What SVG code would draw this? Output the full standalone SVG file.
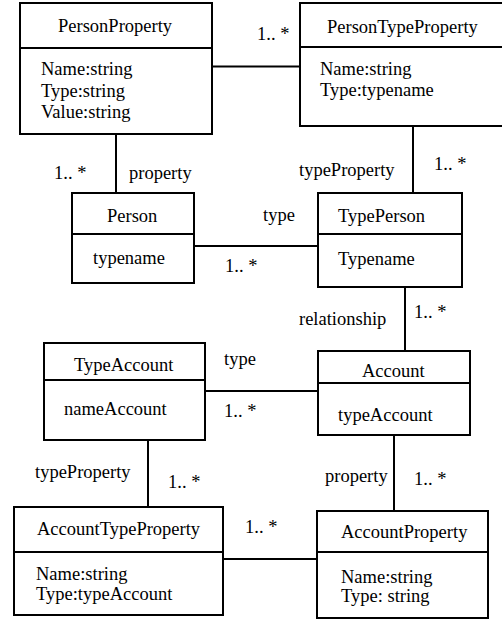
<svg xmlns="http://www.w3.org/2000/svg" width="502" height="619" viewBox="0 0 502 619" font-family="'Liberation Serif', serif" font-size="18.5">
  <style>
    .box { fill: #ffffff; stroke: #000000; stroke-width: 2; }
    .div { stroke: #000000; stroke-width: 2; }
    .link { stroke: #000000; stroke-width: 2; fill: none; }
    text { font-family: 'Liberation Serif', serif; font-size: 18.5px; fill: #000000; }
  </style>
  <rect x="0" y="0" width="502" height="619" fill="#ffffff"/>

  <g id="connectors">
    <line class="link" x1="212" y1="66.5" x2="300" y2="66.5"/>
    <line class="link" x1="116" y1="134" x2="116" y2="193"/>
    <line class="link" x1="413" y1="126" x2="413" y2="193"/>
    <line class="link" x1="194" y1="246" x2="318" y2="246"/>
    <line class="link" x1="405" y1="287" x2="405" y2="351"/>
    <line class="link" x1="205" y1="391" x2="318" y2="391"/>
    <line class="link" x1="148" y1="440" x2="148" y2="507"/>
    <line class="link" x1="394" y1="435" x2="394" y2="511"/>
    <line class="link" x1="223" y1="559" x2="317" y2="559"/>
    <!-- association labels -->
    <text x="257" y="40">1.. *</text>
    <text x="54" y="179">1.. *</text>
    <text x="129" y="179">property</text>
    <text x="299" y="176">typeProperty</text>
    <text x="434" y="170">1.. *</text>
    <text x="263" y="221">type</text>
    <text x="225" y="272">1.. *</text>
    <text x="299" y="325">relationship</text>
    <text x="414" y="318">1.. *</text>
    <text x="224" y="365">type</text>
    <text x="224" y="417">1.. *</text>
    <text x="35" y="478">typeProperty</text>
    <text x="168" y="488">1.. *</text>
    <text x="245" y="533">1.. *</text>
    <text x="325" y="482">property</text>
    <text x="414" y="485">1.. *</text>
  </g>

  <g id="PersonProperty">
    <rect class="box" x="20" y="3" width="192" height="131"/>
    <line class="div" x1="20" y1="48" x2="212" y2="48"/>
    <text x="58" y="32">PersonProperty</text>
    <text x="41" y="75">Name:string</text>
    <text x="41" y="96.5">Type:string</text>
    <text x="41" y="118">Value:string</text>
  </g>

  <g id="PersonTypeProperty">
    <rect class="box" x="300" y="3" width="210" height="123"/>
    <line class="div" x1="300" y1="47" x2="510" y2="47"/>
    <text x="327" y="33">PersonTypeProperty</text>
    <text x="320" y="75">Name:string</text>
    <text x="320" y="96">Type:typename</text>
  </g>

  <g id="Person">
    <rect class="box" x="72" y="193" width="122" height="90"/>
    <line class="div" x1="72" y1="234" x2="194" y2="234"/>
    <text x="107" y="222">Person</text>
    <text x="93" y="264">typename</text>
  </g>

  <g id="TypePerson">
    <rect class="box" x="318" y="193" width="144" height="94"/>
    <line class="div" x1="318" y1="234" x2="462" y2="234"/>
    <text x="338" y="222">TypePerson</text>
    <text x="338" y="265">Typename</text>
  </g>

  <g id="TypeAccount">
    <rect class="box" x="44" y="343" width="161" height="97"/>
    <line class="div" x1="44" y1="380" x2="205" y2="380"/>
    <text x="74" y="371">TypeAccount</text>
    <text x="64" y="415">nameAccount</text>
  </g>

  <g id="Account">
    <rect class="box" x="318" y="351" width="152" height="84"/>
    <line class="div" x1="318" y1="383" x2="470" y2="383"/>
    <text x="362" y="377">Account</text>
    <text x="338" y="421">typeAccount</text>
  </g>

  <g id="AccountTypeProperty">
    <rect class="box" x="14" y="507" width="209" height="108"/>
    <line class="div" x1="14" y1="552" x2="223" y2="552"/>
    <text x="37" y="535">AccountTypeProperty</text>
    <text x="36" y="580">Name:string</text>
    <text x="36" y="600">Type:typeAccount</text>
  </g>

  <g id="AccountProperty">
    <rect class="box" x="317" y="511" width="171" height="107"/>
    <line class="div" x1="317" y1="552" x2="488" y2="552"/>
    <text x="341" y="538">AccountProperty</text>
    <text x="341" y="583">Name:string</text>
    <text x="341" y="602">Type: string</text>
  </g>
</svg>
